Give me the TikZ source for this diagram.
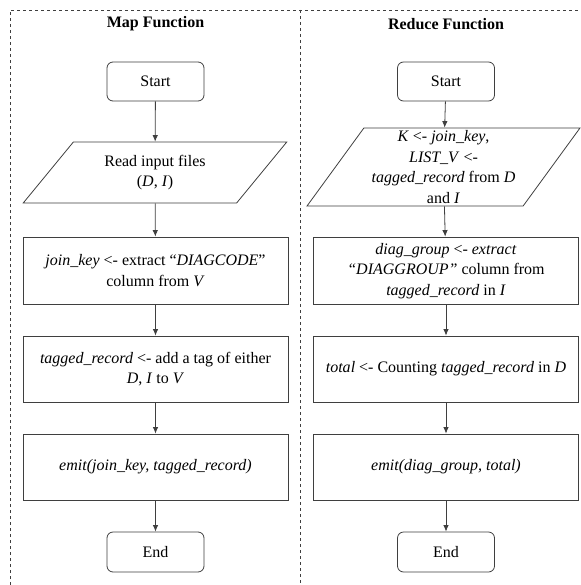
\documentclass[tikz,border=0pt]{standalone}
\usepackage{fontspec}
\setmainfont{Liberation Serif}
\usetikzlibrary{arrows.meta, shapes.geometric, positioning}
\definecolor{lineGrey}{HTML}{3F3F3F}
\tikzset{
    termBox/.style={rectangle, rounded corners=6pt, draw=lineGrey, line width=0.8pt, minimum width=97pt, minimum height=39pt, inner sep=0pt},
    procBox/.style={rectangle, draw=lineGrey, line width=0.8pt, minimum width=265pt, minimum height=66pt, inner sep=0pt, align=center},
    ioBox/.style={trapezium, trapezium stretches=true, draw=lineGrey, line width=0.8pt, inner sep=0pt, align=center},
    flowEdge/.style={-{Latex[length=6.5pt, width=5.5pt]}, draw=lineGrey, line width=0.8pt},
    frameLine/.style={dashed, draw=lineGrey, line width=0.8pt},
    titleText/.style={font=\fontsize{16}{20.5}\selectfont\bfseries, inner sep=0pt},
}
\newcommand{\flowLink}[2]{
    \draw[flowEdge] (#1) -- (#2);
}

\begin{document}
\begin{tikzpicture}[x=1pt, y=-1pt, font=\fontsize{16}{20.5}\selectfont]
        \useasboundingbox (0,0) rectangle (580,585);

        % frame
        \draw[frameLine] (10,585) -- (10,10) -- (580,10);
        \draw[frameLine] (300,10) -- (300,585);

        % map side
        \node[titleText] (mapTitle) at (155.5,24) {Map Function};
        \node[termBox] (mapStart) at (155.5,81.5) {Start};
        \node[ioBox, minimum width=264pt, minimum height=61pt,
              trapezium left angle=48.5, trapezium right angle=131.5] (mapRead) at (155,172.5)
              {Read input files\\(\textit{D}, \textit{I})};
        \node[procBox, minimum height=67.5pt] (mapKey) at (155.5,270.7)
              {\textit{join\_key} <- extract “\textit{DIAGCODE}”\\column from \textit{V}};
        \node[procBox] (mapTag) at (155.5,369)
              {\textit{tagged\_record} <- add a tag of either\\\textit{D}, \textit{I} to \textit{V}};
        \node[procBox] (mapEmit) at (155.5,467)
              {\textit{emit(join\_key, tagged\_record)}};
        \node[termBox, minimum height=40pt] (mapEnd) at (155.5,552) {End};

        % reduce side
        \node[titleText] (redTitle) at (446,24) {Reduce Function};
        \node[termBox] (redStart) at (446,81.5) {Start};
        \node[ioBox, minimum width=273pt, minimum height=78pt,
              trapezium left angle=54.8, trapezium right angle=125.2] (redRead) at (443.5,167)
              {\textit{K} <- \textit{join\_key},\\\textit{LIST\_V} <-\\\textit{tagged\_record} from \textit{D}\\and \textit{I}};
        \node[procBox, minimum height=67.5pt] (redGroup) at (446,270.7)
              {\textit{diag\_group} <- \textit{extract}\\\textit{“DIAGGROUP”} column from\\\textit{tagged\_record} in \textit{I}};
        \node[procBox] (redCount) at (446,369)
              {\textit{total} <- Counting \textit{tagged\_record} in \textit{D}};
        \node[procBox] (redEmit) at (446,467)
              {\textit{emit(diag\_group, total)}};
        \node[termBox, minimum height=40pt] (redEnd) at (446,552) {End};

        \flowLink{mapStart}{mapRead}
        \flowLink{mapRead}{mapKey}
        \flowLink{mapKey}{mapTag}
        \flowLink{mapTag}{mapEmit}
        \flowLink{mapEmit}{mapEnd}

        \flowLink{redStart}{redRead}
        \flowLink{redRead}{redGroup}
        \flowLink{redGroup}{redCount}
        \flowLink{redCount}{redEmit}
        \flowLink{redEmit}{redEnd}

    \end{tikzpicture}
\end{document}
